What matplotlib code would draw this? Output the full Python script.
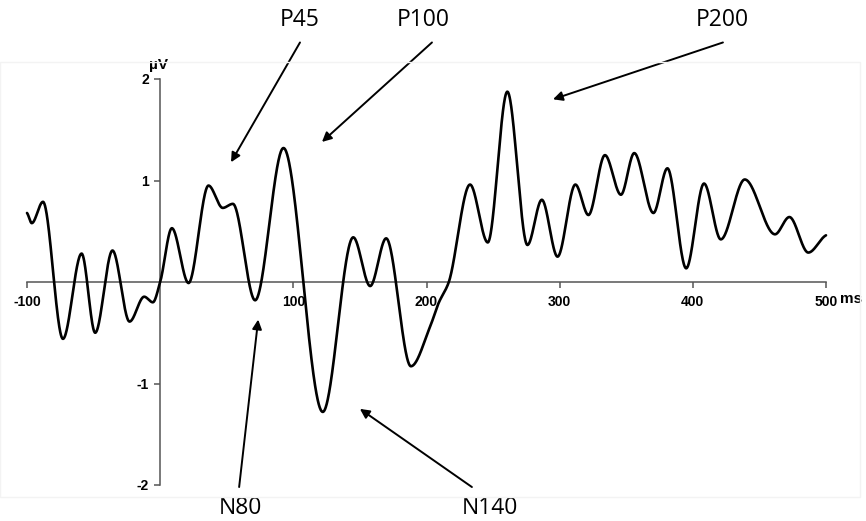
import numpy as np
import matplotlib
matplotlib.use("Agg")
import matplotlib.pyplot as plt
from matplotlib.patches import Rectangle

# Grand-average ERP waveform: turning points of the trace (time in ms, amplitude in µV)
time_ms = [-100, -96.4, -88, -73, -59, -48.8, -35.8, -23, -12, -5.5, 0,
           8.8, 21.3, 36.3, 47, 54.6, 71.3, 92.6, 122.1, 145, 157.7, 169.7,
           188.3, 202.7, 209, 216.5, 232.7, 246, 260.7, 275.8, 286.6, 298.4,
           311.8, 321.6, 334, 346, 356, 370.4, 380.9, 395, 408.4, 421, 439,
           461.7, 472.5, 486.7, 500]
amp_uv = [0.68, 0.58, 0.79, -0.56, 0.28, -0.50, 0.31, -0.39, -0.145, -0.20, 0.0,
          0.53, -0.01, 0.95, 0.73, 0.77, -0.18, 1.32, -1.28, 0.44, -0.04, 0.43,
          -0.83, -0.44, -0.21, -0.01, 0.96, 0.39, 1.875, 0.365, 0.81, 0.25,
          0.96, 0.66, 1.25, 0.86, 1.27, 0.68, 1.12, 0.135, 0.97, 0.42, 1.01,
          0.47, 0.64, 0.29, 0.46]

x_ticks = [-100, 100, 200, 300, 400, 500]
x_tick_labels = ["-100", "100", "200", "300", "400", "500"]
y_ticks = [-2, -1, 1, 2]
y_tick_labels = ["-2", "-1", "1", "2"]

# Component labels: (name, text position, arrow tail, arrow head) in data units
components = [
    ("P45", (105, 2.58), (105, 2.36), (53.2, 1.18)),
    ("P100", (197.5, 2.58), (204.1, 2.36), (121.5, 1.38)),
    ("P200", (421.9, 2.58), (422.6, 2.36), (295, 1.80)),
    ("N80", (60, -2.23), (59.3, -2.02), (73.6, -0.37)),
    ("N140", (247.7, -2.23), (234.1, -2.02), (150, -1.25)),
]


def pchip(x, y, xs):
    """Shape-preserving cubic Hermite curve through (x, y), evaluated at xs."""
    x = np.asarray(x, float)
    y = np.asarray(y, float)
    h = np.diff(x)
    d = np.diff(y) / h
    m = np.zeros_like(y)
    for k in range(1, len(x) - 1):
        if d[k - 1] * d[k] > 0:
            w1 = 2 * h[k] + h[k - 1]
            w2 = h[k] + 2 * h[k - 1]
            m[k] = (w1 + w2) / (w1 / d[k - 1] + w2 / d[k])
    m[0] = d[0] * 0.5
    m[-1] = d[-1] * 0.5
    idx = np.clip(np.searchsorted(x, xs) - 1, 0, len(x) - 2)
    t = (xs - x[idx]) / h[idx]
    h00 = 2 * t**3 - 3 * t**2 + 1
    h10 = t**3 - 2 * t**2 + t
    h01 = -2 * t**3 + 3 * t**2
    h11 = t**3 - t**2
    return (h00 * y[idx] + h10 * h[idx] * m[idx]
            + h01 * y[idx + 1] + h11 * h[idx] * m[idx + 1])


W, H = 866, 521
fig = plt.figure(figsize=(W / 100, H / 100), dpi=100)
fig.patch.set_facecolor("white")

# faint panel outline
fig.patches.append(Rectangle((0, 24 / H), 860 / W, 435 / H, transform=fig.transFigure,
                             fill=False, edgecolor="#f3f3f3", lw=1.0))

ax = fig.add_axes([27 / W, 36 / H, 799 / W, 406 / H])
ax.set_xlim(-100, 500)
ax.set_ylim(-2, 2)
ax.patch.set_alpha(0)

xs = np.linspace(time_ms[0], time_ms[-1], 2400)
ax.plot(xs, pchip(time_ms, amp_uv, xs), color="black", lw=1.9,
        solid_capstyle="round", clip_on=False, zorder=3)

axis_col = "#555555"
for s in ("top", "right"):
    ax.spines[s].set_visible(False)
ax.spines["left"].set_position(("data", 0))
ax.spines["bottom"].set_position(("data", 0))
ax.spines["left"].set_color(axis_col)
ax.spines["bottom"].set_color(axis_col)
ax.spines["left"].set_linewidth(1.1)
ax.spines["bottom"].set_linewidth(1.1)

tick_font = dict(family="Liberation Sans", weight="bold", size=10)
ax.set_xticks(x_ticks)
ax.set_xticklabels(x_tick_labels, **tick_font)
ax.set_yticks(y_ticks)
ax.set_yticklabels(y_tick_labels, **tick_font)
ax.tick_params(axis="both", direction="out", length=4, width=1.1, color=axis_col, pad=4)
ax.tick_params(axis="x", pad=5)

ax.text(510.5, -0.17, "ms", ha="left", va="center", family="Liberation Sans",
        weight="bold", fontsize=11, clip_on=False)
ax.text(-1.5, 2.14, "µV", ha="center", va="center", family="Liberation Sans",
        weight="bold", fontsize=11, clip_on=False)

for name, txt, tail, head in components:
    ax.text(txt[0], txt[1], name, ha="center", va="center", family="Open Sans",
            fontsize=16.5, clip_on=False)
    ax.annotate("", xy=head, xytext=tail, xycoords="data", textcoords="data",
                annotation_clip=False,
                arrowprops=dict(arrowstyle="-|>", color="black", lw=1.4,
                                mutation_scale=14, shrinkA=0, shrinkB=0))

fig.savefig("out.png", dpi=100, facecolor="white")
